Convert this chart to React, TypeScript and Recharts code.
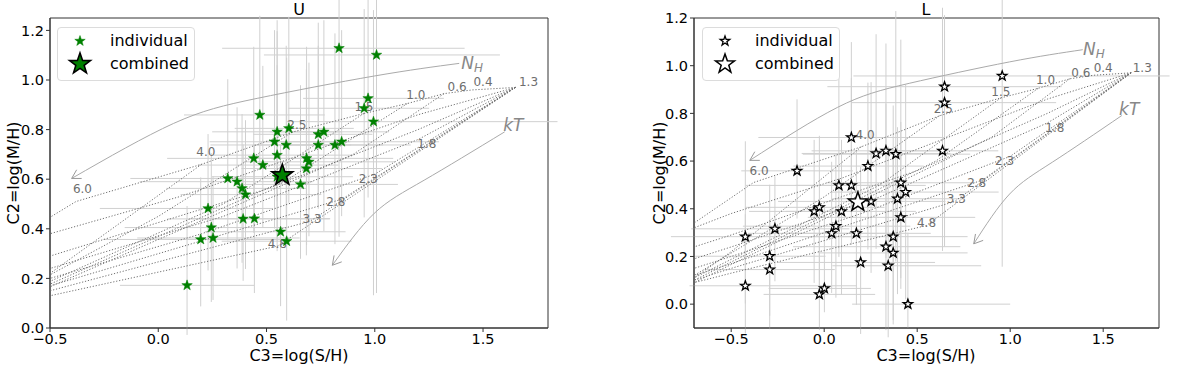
import React from 'react';
import { ScatterChart, Scatter, XAxis, YAxis, ErrorBar, ReferenceArea } from 'recharts';

const FONT = 'DejaVu Sans, Verdana, sans-serif';

// ---- U panel (green) ----
const uC3 = [0.835, 1.008, 0.969, 0.951, 0.994, 0.469, 0.549, 0.603, 0.739, 0.765, 0.537, 0.591, 0.739, 0.816, 0.847, 0.549, 0.441, 0.483, 0.685, 0.696, 0.684, 0.321, 0.364, 0.387, 0.403, 0.549, 0.657, 0.23, 0.392, 0.444, 0.245, 0.196, 0.253, 0.565, 0.593, 0.133];
const uC2 = [1.128, 1.101, 0.926, 0.886, 0.832, 0.859, 0.791, 0.805, 0.781, 0.791, 0.751, 0.738, 0.738, 0.738, 0.751, 0.697, 0.684, 0.657, 0.684, 0.67, 0.643, 0.603, 0.59, 0.563, 0.538, 0.61, 0.579, 0.482, 0.44, 0.441, 0.405, 0.357, 0.363, 0.388, 0.35, 0.172];
const uC3Err = [[0.54, 0.58], [0.52, 0.57], [0.3, 0.35], [0.35, 0.3], [0.4, 0.85], [0.35, 0.3], [0.3, 0.3], [0.25, 0.3], [0.3, 0.25], [0.25, 0.3], [0.3, 0.35], [0.35, 0.3], [0.3, 0.3], [0.25, 0.35], [0.35, 0.45], [0.3, 0.35], [0.4, 0.3], [0.3, 0.35], [0.3, 0.4], [0.3, 0.4], [0.3, 0.35], [0.45, 0.3], [0.45, 0.35], [0.35, 0.3], [0.3, 0.35], [0.3, 0.35], [0.3, 0.45], [0.5, 0.3], [0.35, 0.4], [0.3, 0.35], [0.4, 0.35], [0.45, 0.4], [0.35, 0.4], [0.35, 0.3], [0.3, 0.3], [0.31, 0.31]];
const uC2Err = [[0.76, 0.3], [0.96, 0.3], [0.4, 0.4], [0.44, 0.4], [0.7, 0.45], [0.2, 0.4], [0.28, 0.45], [0.3, 0.45], [0.3, 0.45], [0.4, 0.45], [0.35, 0.45], [0.3, 0.4], [0.25, 0.4], [0.4, 0.45], [0.3, 0.45], [0.35, 0.5], [0.3, 0.45], [0.25, 0.4], [0.35, 0.45], [0.3, 0.4], [0.35, 0.4], [0.25, 0.4], [0.35, 0.3], [0.3, 0.3], [0.3, 0.3], [0.3, 0.45], [0.3, 0.4], [0.25, 0.3], [0.25, 0.3], [0.3, 0.3], [0.3, 0.3], [0.27, 0.25], [0.25, 0.25], [0.3, 0.35], [0.32, 0.74], [0.2, 0.32]];
const uCombined = [0.573, 0.616];

// ---- L panel (open stars) ----
const lC3 = [0.957, 0.647, 0.647, 0.636, 0.146, -0.146, 0.279, 0.332, 0.385, 0.235, 0.079, 0.146, 0.412, 0.438, 0.394, 0.252, -0.026, -0.054, 0.093, 0.412, 0.063, -0.265, -0.424, 0.04, 0.173, 0.371, 0.332, 0.371, -0.293, -0.293, 0.196, 0.344, -0.424, -0.026, 0.001, 0.45];
const lC2 = [0.957, 0.912, 0.845, 0.643, 0.699, 0.559, 0.632, 0.643, 0.629, 0.579, 0.498, 0.498, 0.509, 0.47, 0.442, 0.431, 0.406, 0.389, 0.389, 0.364, 0.327, 0.316, 0.283, 0.297, 0.297, 0.283, 0.241, 0.215, 0.201, 0.145, 0.175, 0.161, 0.077, 0.041, 0.066, 0.0];
const lC3Err = [[0.8, 0.9], [0.63, 0.63], [0.5, 0.6], [0.4, 0.3], [0.5, 0.5], [0.3, 0.3], [0.4, 0.4], [0.4, 0.3], [0.5, 0.4], [0.4, 0.3], [0.5, 0.3], [0.3, 0.4], [0.4, 0.4], [0.4, 0.5], [0.35, 0.35], [0.5, 0.4], [0.4, 0.35], [0.35, 0.3], [0.3, 0.4], [0.5, 0.4], [0.5, 0.4], [0.45, 0.4], [0.4, 0.6], [0.45, 0.35], [0.4, 0.4], [0.5, 0.4], [0.5, 0.4], [0.4, 0.4], [0.4, 0.3], [0.35, 0.35], [0.45, 0.4], [0.3, 0.5], [0.3, 0.6], [0.3, 0.3], [0.3, 0.25], [0.3, 0.55]];
const lC2Err = [[0.8, 0.4], [0.67, 0.3], [0.6, 0.3], [0.42, 0.6], [0.3, 0.4], [0.2, 0.3], [0.4, 0.5], [0.45, 0.45], [0.45, 0.6], [0.35, 0.35], [0.3, 0.45], [0.25, 0.45], [0.4, 0.6], [0.45, 0.45], [0.4, 0.3], [0.3, 0.5], [0.35, 0.3], [0.3, 0.3], [0.35, 0.3], [0.3, 0.4], [0.3, 0.3], [0.22, 0.22], [0.28, 0.4], [0.25, 0.3], [0.3, 0.35], [0.35, 0.55], [0.35, 0.6], [0.3, 0.4], [0.25, 0.3], [0.25, 0.2], [0.3, 0.4], [0.3, 0.5], [0.2, 0.3], [0.15, 0.3], [0.1, 0.35], [0.1, 0.3]];
const lCombined = [0.181, 0.428];

// ---- spectral model grid (same in both panels) ----
const modelLines: number[][][] = [
  [[1.65, 0.97], [1.45, 0.96], [1.32, 0.945], [1.15, 0.905], [0.95, 0.865], [0.62, 0.79], [0.2, 0.66], [-0.38, 0.51], [-0.7, 0.34]],
  [[1.65, 0.97], [1.2, 0.86], [0.6, 0.68], [0.1, 0.53], [-0.5, 0.38], [-0.7, 0.32]],
  [[1.65, 0.97], [1.2, 0.8], [0.5, 0.56], [-0.5, 0.29], [-0.7, 0.24]],
  [[1.65, 0.97], [1.2, 0.76], [0.3, 0.45], [-0.5, 0.24], [-0.7, 0.19]],
  [[1.65, 0.97], [1.0, 0.62], [0.2, 0.38], [-0.5, 0.2], [-0.7, 0.15]],
  [[1.65, 0.97], [0.85, 0.52], [-0.5, 0.17], [-0.7, 0.12]],
  [[1.65, 0.97], [0.7, 0.43], [-0.5, 0.15], [-0.7, 0.1]],
  [[1.65, 0.97], [0.55, 0.33], [-0.5, 0.13], [-0.7, 0.09]],
  [[0.2, 0.66], [-0.5, 0.22], [-0.7, 0.11]],
  [[0.62, 0.79], [0.0, 0.45], [-0.7, 0.12]],
  [[0.95, 0.865], [0.3, 0.5], [-0.7, 0.11]],
  [[1.15, 0.905], [0.6, 0.6], [-0.7, 0.1]],
  [[1.32, 0.945], [0.9, 0.7], [-0.7, 0.09]],
];
const nhLabels = ['0.4', '0.6', '1.0', '1.5', '2.5', '4.0', '6.0'];
const nhLabelC3 = [1.5, 1.38, 1.19, 0.95, 0.64, 0.22, -0.35];
const nhLabelC2 = [0.99, 0.97, 0.94, 0.89, 0.82, 0.71, 0.56];
const ktLabels = ['1.3', '1.8', '2.3', '2.8', '3.3', '4.8'];
const ktLabelC3 = [1.71, 1.24, 0.97, 0.82, 0.71, 0.55];
const ktLabelC2 = [0.99, 0.74, 0.6, 0.51, 0.44, 0.34];
const nhArrow = [[1.39, 1.067], [0.997, 1.016], [0.457, 0.926], [0.071, 0.825], [-0.4, 0.603]];
const ktArrow = [[1.6, 0.791], [1.228, 0.596], [0.997, 0.462], [0.804, 0.253]];

const xTicks = [-0.5, 0, 0.5, 1, 1.5];
const yTicks = [0, 0.2, 0.4, 0.6, 0.8, 1.0, 1.2];

const pts = (c3: number[], c2: number[], e3: number[][], e2: number[][]) =>
  c3.map((x, i) => ({ x, y: c2[i], ex: e3[i], ey: e2[i] }));
const toXY = (arr: number[][]) => arr.map(([x, y]) => ({ x, y }));
const labelPts = (t: string[], c3: number[], c2: number[]) => t.map((s, i) => ({ x: c3[i], y: c2[i], t: s }));

function starPoints(cx: number, cy: number, r: number) {
  const p: string[] = [];
  for (let i = 0; i < 10; i++) {
    const rr = i % 2 === 0 ? r : r * 0.4;
    const a = -Math.PI / 2 + (i * Math.PI) / 5;
    p.push(`${cx + rr * Math.cos(a)},${cy + rr * Math.sin(a)}`);
  }
  return p.join(' ');
}

const Star = ({ cx, cy, r, fill, stroke, sw }: any) => (
  <polygon points={starPoints(cx, cy, r)} fill={fill} stroke={stroke} strokeWidth={sw} strokeLinejoin="miter" />
);

const fmt = (v: number) => (v < 0 ? '\u2212' + Math.abs(v).toFixed(1) : v.toFixed(1));

const arrowShape = (angle: number, nPts: number) => (p: any) => {
  if (p.index !== nPts - 1) return <g />;
  const a = (angle * Math.PI) / 180;
  const L = 10;
  const w1 = [p.cx - L * Math.cos(a + Math.PI / 6), p.cy - L * Math.sin(a + Math.PI / 6)];
  const w2 = [p.cx - L * Math.cos(a - Math.PI / 6), p.cy - L * Math.sin(a - Math.PI / 6)];
  return <polyline points={`${w1[0]},${w1[1]} ${p.cx},${p.cy} ${w2[0]},${w2[1]}`} fill="none" stroke="#999" strokeWidth={1} />;
};

const none = () => <g />;

function Panel({ data, combined, xDomain, yDomain, width, right, yWidth, open }: any) {
  const small = open
    ? (p: any) => <Star cx={p.cx} cy={p.cy} r={5} fill="#fff" stroke="#000" sw={1.3} />
    : (p: any) => <Star cx={p.cx} cy={p.cy} r={5.5} fill="#008000" stroke="#008000" sw={0.5} />;
  const big = open
    ? (p: any) => <Star cx={p.cx} cy={p.cy} r={10} fill="#fff" stroke="#000" sw={1.5} />
    : (p: any) => <Star cx={p.cx} cy={p.cy} r={11} fill="#008000" stroke="#000" sw={1.6} />;
  const textShape = (size: number) => (p: any) => (
    <text x={p.cx} y={p.cy} textAnchor="middle" dominantBaseline="central" fontSize={size} fill="#6e6e6e" fontFamily={FONT}>
      {p.payload.t}
    </text>
  );
  const italicShape = (p: any) =>
    p.payload.t === 'NH' ? (
      <text x={p.cx} y={p.cy} textAnchor="middle" dominantBaseline="central" fontSize={17} fill="#888" fontStyle="italic" fontFamily={FONT}>
        N<tspan fontSize={12} dy={5}>H</tspan>
      </text>
    ) : (
      <text x={p.cx} y={p.cy} textAnchor="middle" dominantBaseline="central" fontSize={17} fill="#888" fontStyle="italic" fontFamily={FONT}>
        kT
      </text>
    );
  return (
    <ScatterChart width={width} height={369} margin={{ top: 18, right, bottom: 0, left: 0 }}>
      <XAxis type="number" dataKey="x" domain={xDomain} ticks={xTicks} allowDataOverflow height={41} tickFormatter={fmt}
        tickSize={4} tick={{ fontSize: 14.5, fill: '#000', fontFamily: FONT }} stroke="#333" />
      <YAxis type="number" dataKey="y" domain={yDomain} ticks={yTicks} allowDataOverflow width={yWidth} tickFormatter={fmt}
        tickSize={4} tick={{ fontSize: 14.5, fill: '#000', fontFamily: FONT }} stroke="#333" />
      <ReferenceArea x1={xDomain[0]} x2={xDomain[1]} y1={yDomain[0]} y2={yDomain[1]} fill="none" stroke="#333" strokeWidth={1} fillOpacity={0} />
      <Scatter data={data} shape={none} isAnimationActive={false}>
        <ErrorBar dataKey="ex" direction="x" width={0} stroke="#d0d0d0" strokeWidth={1} />
        <ErrorBar dataKey="ey" direction="y" width={0} stroke="#d0d0d0" strokeWidth={1} />
      </Scatter>
      {modelLines.map((ln, i) => (
        <Scatter key={i} data={toXY(ln)} shape={none} isAnimationActive={false}
          line={{ stroke: '#707070', strokeWidth: 1, strokeDasharray: '1.2 1.8' }} />
      ))}
      <Scatter data={toXY(nhArrow)} shape={arrowShape(150, nhArrow.length)} isAnimationActive={false}
        line={{ stroke: '#aaa', strokeWidth: 1 }} lineJointType="natural" />
      <Scatter data={toXY(ktArrow)} shape={arrowShape(130, ktArrow.length)} isAnimationActive={false}
        line={{ stroke: '#aaa', strokeWidth: 1 }} lineJointType="natural" />
      <Scatter data={labelPts(nhLabels, nhLabelC3, nhLabelC2)} shape={textShape(12)} isAnimationActive={false} />
      <Scatter data={labelPts(ktLabels, ktLabelC3, ktLabelC2)} shape={textShape(12)} isAnimationActive={false} />
      <Scatter data={[{ x: 1.45, y: 1.07, t: 'NH' }, { x: 1.64, y: 0.82, t: 'kT' }]} shape={italicShape} isAnimationActive={false} />
      <Scatter data={data} shape={small} isAnimationActive={false} />
      <Scatter data={[{ x: combined[0], y: combined[1] }]} shape={big} isAnimationActive={false} />
    </ScatterChart>
  );
}

const txt: React.CSSProperties = { position: 'absolute', fontFamily: FONT, color: '#000', whiteSpace: 'nowrap', lineHeight: 1 };

function LegendBox({ left, open }: { left: number; open: boolean }) {
  return (
    <div style={{ position: 'absolute', left, top: 27, width: 136, height: 52, border: '1px solid #dcdcdc', borderRadius: 4, background: '#fff' }}>
      <svg width={40} height={52} style={{ position: 'absolute', left: 0, top: 0 }}>
        {open ? (
          <>
            <Star cx={22} cy={13} r={5} fill="#fff" stroke="#000" sw={1.3} />
            <Star cx={22} cy={36} r={10} fill="#fff" stroke="#000" sw={1.5} />
          </>
        ) : (
          <>
            <Star cx={22} cy={13} r={5.5} fill="#008000" stroke="#008000" sw={0.5} />
            <Star cx={22} cy={36} r={11} fill="#008000" stroke="#000" sw={1.6} />
          </>
        )}
      </svg>
      <div style={{ ...txt, left: 52, top: 5, fontSize: 16 }}>individual</div>
      <div style={{ ...txt, left: 52, top: 28, fontSize: 16 }}>combined</div>
    </div>
  );
}

export default function App() {
  const uData = pts(uC3, uC2, uC3Err, uC2Err);
  const lData = pts(lC3, lC2, lC3Err, lC2Err);
  return (
    <div style={{ position: 'absolute', left: 0, top: 0, width: 1200, height: 369, background: '#fff', overflow: 'hidden' }}>
      <div style={{ position: 'absolute', left: 0, top: 0 }}>
        <Panel data={uData} combined={uCombined} xDomain={[-0.5, 1.8]} yDomain={[0, 1.25]} width={560} right={12} yWidth={50} open={false} />
      </div>
      <div style={{ position: 'absolute', left: 640, top: 0 }}>
        <Panel data={lData} combined={lCombined} xDomain={[-0.7, 1.8]} yDomain={[-0.1, 1.2]} width={530} right={11} yWidth={54} open />
      </div>
      <LegendBox left={57} open={false} />
      <LegendBox left={702} open />
      <div style={{ ...txt, left: 299, top: 2, fontSize: 16, transform: 'translateX(-50%)' }}>U</div>
      <div style={{ ...txt, left: 926, top: 2, fontSize: 16, transform: 'translateX(-50%)' }}>L</div>
      <div style={{ ...txt, left: 299, top: 348, fontSize: 16, transform: 'translateX(-50%)' }}>C3=log(S/H)</div>
      <div style={{ ...txt, left: 926, top: 348, fontSize: 16, transform: 'translateX(-50%)' }}>C3=log(S/H)</div>
      <div style={{ ...txt, left: 14, top: 173, fontSize: 16, transform: 'translate(-50%,-50%) rotate(-90deg)' }}>C2=log(M/H)</div>
      <div style={{ ...txt, left: 660, top: 173, fontSize: 16, transform: 'translate(-50%,-50%) rotate(-90deg)' }}>C2=log(M/H)</div>
    </div>
  );
}
